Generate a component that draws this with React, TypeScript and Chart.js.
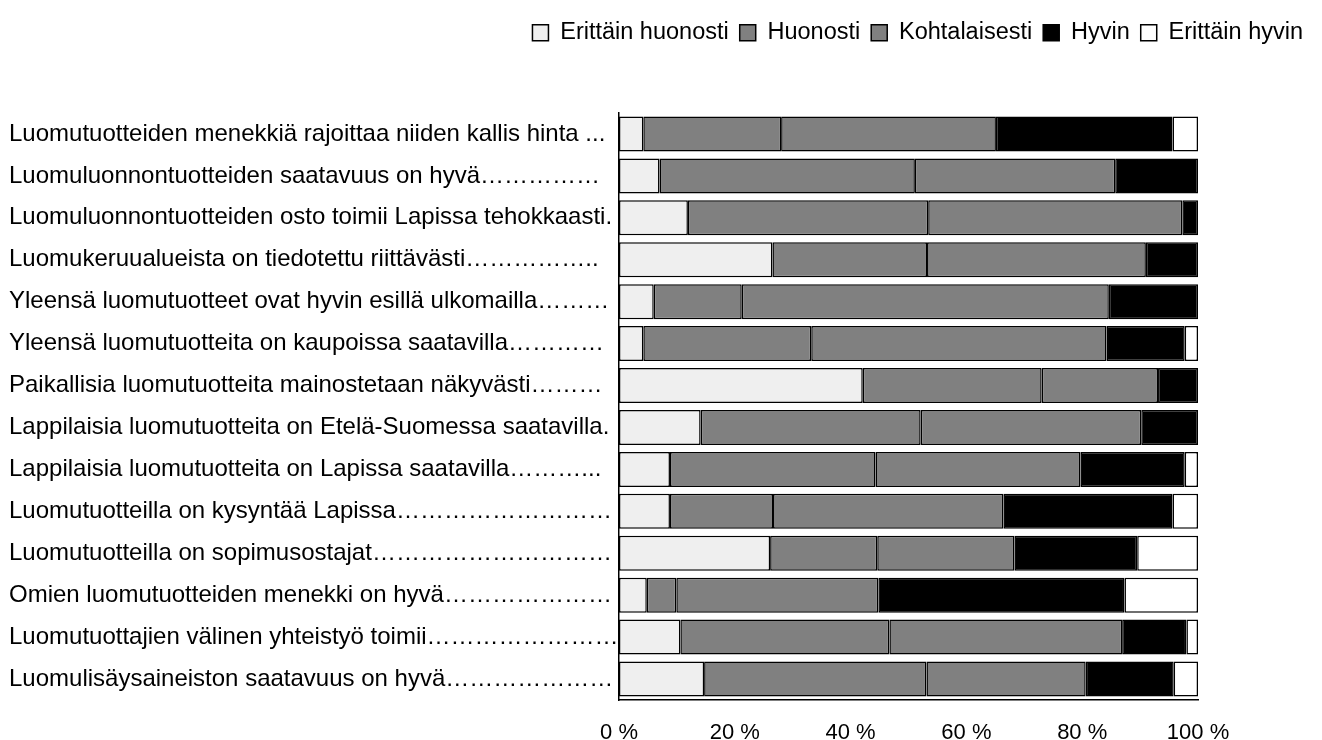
import React, { useEffect, useRef } from "react";
import { Chart, registerables } from "chart.js";

Chart.register(...registerables);

const E = "\u2026";

const categories = [
  "Luomutuotteiden menekkiä rajoittaa niiden kallis hinta ...",
  "Luomuluonnontuotteiden saatavuus on hyvä" + E.repeat(5),
  "Luomuluonnontuotteiden osto toimii Lapissa tehokkaasti.",
  "Luomukeruualueista on tiedotettu riittävästi" + E.repeat(5) + "..",
  "Yleensä luomutuotteet ovat hyvin esillä ulkomailla" + E.repeat(3),
  "Yleensä luomutuotteita on kaupoissa saatavilla" + E.repeat(4),
  "Paikallisia luomutuotteita mainostetaan näkyvästi" + E.repeat(3),
  "Lappilaisia luomutuotteita on Etelä-Suomessa saatavilla.",
  "Lappilaisia luomutuotteita on Lapissa saatavilla" + E.repeat(3) + "...",
  "Luomutuotteilla on kysyntää Lapissa" + E.repeat(9),
  "Luomutuotteilla on sopimusostajat" + E.repeat(10),
  "Omien luomutuotteiden menekki on hyvä" + E.repeat(7),
  "Luomutuottajien välinen yhteistyö toimii" + E.repeat(8),
  "Luomulisäysaineiston saatavuus on hyvä" + E.repeat(7),
];

const seriesNames = ["Erittäin huonosti", "Huonosti", "Kohtalaisesti", "Hyvin", "Erittäin hyvin"];

const erittainHuonosti = [4.2, 7.0, 11.9, 26.5, 6.0, 4.2, 42.1, 14.1, 8.8, 8.8, 26.1, 4.8, 10.6, 14.7];
const huonosti = [23.8, 44.1, 41.5, 26.7, 15.2, 29.0, 30.9, 38.0, 35.5, 17.8, 18.5, 5.1, 36.1, 38.4];
const kohtalaisesti = [37.1, 34.6, 43.9, 37.8, 63.4, 51.0, 20.1, 38.1, 35.4, 39.8, 23.7, 34.9, 40.2, 27.5];
const hyvin = [30.5, 14.3, 2.7, 9.0, 15.4, 13.5, 6.9, 9.8, 18.0, 29.2, 21.2, 42.5, 11.1, 15.2];
const erittainHyvin = [4.4, 0, 0, 0, 0, 2.3, 0, 0, 2.3, 4.4, 10.5, 12.7, 2.0, 4.2];

const xTicks = [0, 20, 40, 60, 80, 100];

const FONT = "'Liberation Sans', Arial, sans-serif";

export default function App() {
  const ref = useRef<HTMLCanvasElement | null>(null);

  useEffect(() => {
    document.documentElement.style.overflow = "hidden";
    document.body.style.overflow = "hidden";
    const colors = ["#efefef", "#808080", "#808080", "#000000", "#ffffff"];
    const values = [erittainHuonosti, huonosti, kohtalaisesti, hyvin, erittainHyvin];

    const legendSpace = {
      id: "legendSpace",
      beforeInit(chart: any) {
        const orig = chart.legend.fit;
        chart.legend.fit = function () {
          orig.call(this);
          this.height = 103;
        };
      },
    };

    const chart = new Chart(ref.current as HTMLCanvasElement, {
      type: "bar",
      data: {
        labels: categories,
        datasets: seriesNames.map((name, i) => ({
          label: name,
          data: values[i],
          backgroundColor: colors[i],
          borderColor: "#000000",
          borderWidth: 1.5,
          borderSkipped: false,
          categoryPercentage: 1,
          barPercentage: 0.835,
          xAxisID: "x",
          yAxisID: "y",
        })),
      },
      options: {
        animation: false,
        responsive: true,
        maintainAspectRatio: false,
        indexAxis: "y",
        layout: { padding: { left: 1, right: 0, top: 2, bottom: 0 } },
        plugins: {
          tooltip: { enabled: false },
          legend: {
            position: "top",
            align: "end",
            labels: {
              color: "#000",
              font: { family: FONT, size: 23.5 },
              boxWidth: 16,
              boxHeight: 16,
              padding: 11,
            },
          },
        },
        scales: {
          x: {
            type: "linear",
            stacked: true,
            min: 0,
            max: 100,
            afterBuildTicks(scale: any) {
              scale.ticks = xTicks.map((v) => ({ value: v }));
            },
            afterFit(scale: any) {
              scale.height = 40;
            },
            grid: { display: false, drawTicks: false },
            border: { display: true, color: "#000", width: 1.5 },
            ticks: {
              color: "#000",
              font: { family: FONT, size: 22 },
              padding: 20,
              maxRotation: 0,
              callback: (v: any) => v + " %",
            },
          },
          y: {
            type: "category",
            stacked: true,
            afterFit(scale: any) {
              scale.width = 610;
            },
            grid: { display: false, drawTicks: false },
            border: { display: true, color: "#000", width: 1.5 },
            ticks: {
              color: "#000",
              crossAlign: "far",
              font: { family: FONT, size: 24 },
              padding: 0,
              autoSkip: false,
            },
          },
          yRight: {
            type: "linear",
            position: "right",
            display: true,
            afterFit(scale: any) {
              scale.width = 116;
            },
            grid: { display: false, drawTicks: false },
            border: { display: false },
            ticks: { display: false },
          },
        },
      },
      plugins: [legendSpace],
    } as any);

    return () => chart.destroy();
  }, []);

  return (
    <div style={{ position: "relative", width: "100%", height: "732px" }}>
      <canvas ref={ref} />
    </div>
  );
}
